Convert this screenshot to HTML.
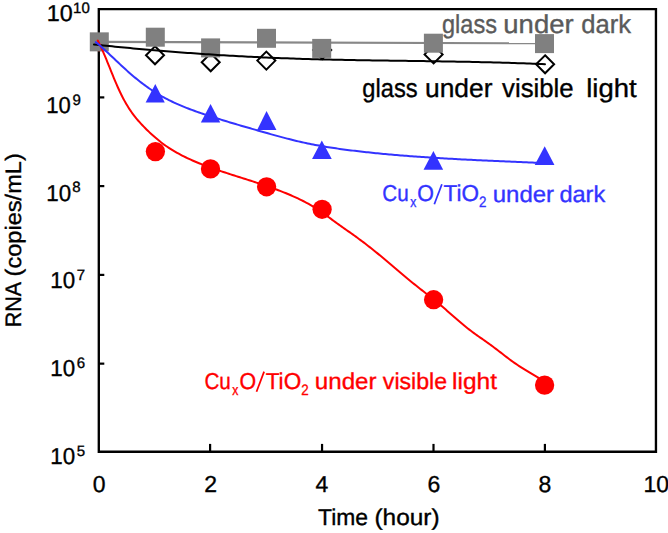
<!DOCTYPE html>
<html><head><meta charset="utf-8">
<style>
html,body{margin:0;padding:0;background:#fff;}
body{width:668px;height:533px;overflow:hidden;position:relative;}
svg{position:absolute;left:0;top:0;font-family:"Liberation Sans",sans-serif;text-rendering:geometricPrecision;}
</style></head><body>
<svg width="668" height="533" viewBox="0 0 668 533">
<path d="M98.8 9.15 H655.95 V451.7 H98.8 Z" fill="none" stroke="#000" stroke-width="2.35" stroke-linejoin="miter"/>
<line x1="99" y1="97.40" x2="104.3" y2="97.40" stroke="#000" stroke-width="2.2"/>
<line x1="99" y1="186.10" x2="104.3" y2="186.10" stroke="#000" stroke-width="2.2"/>
<line x1="99" y1="274.90" x2="104.3" y2="274.90" stroke="#000" stroke-width="2.2"/>
<line x1="99" y1="363.65" x2="104.3" y2="363.65" stroke="#000" stroke-width="2.2"/>
<line x1="210.10" y1="451.5" x2="210.10" y2="443.9" stroke="#000" stroke-width="2.2"/>
<line x1="322.05" y1="451.5" x2="322.05" y2="443.9" stroke="#000" stroke-width="2.2"/>
<line x1="433.50" y1="451.5" x2="433.50" y2="443.9" stroke="#000" stroke-width="2.2"/>
<line x1="544.90" y1="451.5" x2="544.90" y2="443.9" stroke="#000" stroke-width="2.2"/>
<circle cx="99.30" cy="42.10" r="9.20" fill="#ff0000"/>
<circle cx="155.40" cy="151.60" r="9.65" fill="#ff0000"/>
<circle cx="210.50" cy="168.90" r="9.65" fill="#ff0000"/>
<circle cx="266.60" cy="186.80" r="9.65" fill="#ff0000"/>
<circle cx="322.10" cy="209.30" r="9.65" fill="#ff0000"/>
<circle cx="433.60" cy="299.70" r="9.65" fill="#ff0000"/>
<circle cx="544.60" cy="385.10" r="9.65" fill="#ff0000"/>
<path d="M155.30 83.90 L164.75 102.60 L145.65 102.60 Z" fill="#3333ff"/>
<path d="M210.55 104.10 L220.25 122.50 L200.85 122.50 Z" fill="#3333ff"/>
<path d="M266.55 111.10 L276.45 129.90 L257.15 129.90 Z" fill="#3333ff"/>
<path d="M321.80 140.40 L331.75 158.90 L312.05 158.90 Z" fill="#3333ff"/>
<path d="M433.40 151.10 L443.15 169.80 L423.55 169.80 Z" fill="#3333ff"/>
<path d="M544.70 146.20 L554.45 164.90 L534.75 164.90 Z" fill="#3333ff"/>
<path d="M155.00 46.30 L164.00 55.30 L155.00 64.30 L146.00 55.30 Z" fill="#fff" stroke="#000" stroke-width="2.00"/>
<path d="M210.70 53.30 L219.70 62.30 L210.70 71.30 L201.70 62.30 Z" fill="#fff" stroke="#000" stroke-width="2.00"/>
<path d="M266.35 51.60 L275.35 60.60 L266.35 69.60 L257.35 60.60 Z" fill="#fff" stroke="#000" stroke-width="2.00"/>
<path d="M322.20 41.10 L331.20 50.10 L322.20 59.10 L313.20 50.10 Z" fill="#fff" stroke="#000" stroke-width="2.00"/>
<path d="M433.60 45.40 L442.60 54.40 L433.60 63.40 L424.60 54.40 Z" fill="#fff" stroke="#000" stroke-width="2.00"/>
<path d="M545.10 55.30 L554.10 64.30 L545.10 73.30 L536.10 64.30 Z" fill="#fff" stroke="#000" stroke-width="2.00"/>
<polygon points="99,40.85 544,42.25 544,44.35 99,42.95" fill="#888"/>
<rect x="89.80" y="32.35" width="19.00" height="19.00" fill="#808080"/>
<rect x="145.80" y="27.70" width="19.00" height="19.00" fill="#808080"/>
<rect x="201.10" y="38.40" width="19.00" height="19.00" fill="#808080"/>
<rect x="257.00" y="28.80" width="19.00" height="19.00" fill="#808080"/>
<rect x="312.20" y="38.90" width="19.00" height="19.00" fill="#808080"/>
<rect x="423.90" y="33.70" width="19.00" height="19.00" fill="#808080"/>
<rect x="535.00" y="34.10" width="19.00" height="19.00" fill="#808080"/>
<path d="M94.00 44.46L97.02 44.78L100.03 45.10L103.05 45.42L106.06 45.73L109.08 46.03L112.10 46.34L115.11 46.64L118.13 46.94L121.15 47.23L124.17 47.52L127.19 47.81L130.20 48.10L133.22 48.38L136.24 48.66L139.26 48.93L142.28 49.21L145.30 49.47L148.32 49.74L151.34 50.00L154.36 50.26L157.38 50.52L160.40 50.77L163.42 51.02L166.44 51.26L169.46 51.51L172.49 51.75L175.51 51.98L178.53 52.22L181.55 52.45L184.58 52.67L187.60 52.89L190.62 53.11L193.65 53.33L196.67 53.54L199.69 53.75L202.72 53.96L205.74 54.16L208.76 54.36L211.79 54.56L214.81 54.75L217.84 54.94L220.86 55.13L223.89 55.31L226.91 55.49L229.94 55.67L232.97 55.84L235.99 56.01L239.02 56.18L242.04 56.34L245.07 56.50L248.10 56.65L251.12 56.81L254.15 56.95L257.18 57.10L260.21 57.24L263.23 57.38L266.26 57.52L269.29 57.65L272.32 57.78L275.34 57.90L278.37 58.03L281.40 58.14L284.43 58.26L287.46 58.37L290.49 58.48L293.51 58.58L296.54 58.69L299.57 58.78L302.60 58.88L305.63 58.97L308.66 59.06L311.69 59.15L314.72 59.23L317.75 59.31L320.78 59.39L323.81 59.46L326.84 59.54L329.87 59.61L332.90 59.68L335.93 59.74L338.96 59.81L341.99 59.87L345.02 59.93L348.05 59.99L351.08 60.04L354.11 60.10L357.14 60.15L360.17 60.20L363.20 60.25L366.23 60.30L369.26 60.35L372.29 60.40L375.32 60.45L378.36 60.49L381.39 60.54L384.42 60.58L387.45 60.62L390.48 60.66L393.51 60.71L396.54 60.75L399.57 60.79L402.60 60.83L405.63 60.87L408.66 60.91L411.70 60.95L414.73 61.00L417.76 61.04L420.79 61.08L423.82 61.12L426.85 61.17L429.88 61.21L432.91 61.25L435.94 61.30L438.97 61.34L442.00 61.39L445.03 61.44L448.07 61.49L451.10 61.54L454.13 61.59L457.16 61.64L460.19 61.70L463.22 61.76L466.25 61.81L469.28 61.87L472.31 61.94L475.34 62.00L478.37 62.06L481.40 62.13L484.43 62.20L487.46 62.28L490.49 62.35L493.52 62.43L496.55 62.51L499.58 62.59L502.61 62.68L505.63 62.76L508.66 62.86L511.69 62.95L514.72 63.05L517.75 63.15L520.78 63.25L523.81 63.36L526.84 63.47L529.86 63.59L532.89 63.70L535.92 63.83L538.95 63.95L541.98 64.08L545.00 64.22" fill="none" stroke="#000" stroke-width="2" stroke-linecap="round" stroke-linejoin="round"/>
<path d="M97.75 40.54L98.61 42.23L99.45 43.93L100.28 45.64L101.09 47.37L101.89 49.11L102.67 50.85L103.45 52.61L104.21 54.38L104.97 56.16L105.72 57.94L106.46 59.73L107.19 61.52L107.93 63.32L108.65 65.13L109.38 66.93L110.11 68.74L110.84 70.55L111.56 72.36L112.30 74.17L113.03 75.98L113.77 77.78L114.52 79.59L115.27 81.38L116.03 83.18L116.81 84.96L117.59 86.74L118.39 88.51L119.20 90.28L120.02 92.03L120.86 93.77L121.71 95.51L122.59 97.23L123.48 98.93L124.39 100.63L125.32 102.30L126.28 103.97L127.26 105.61L128.27 107.24L129.30 108.85L130.35 110.44L131.44 112.01L132.56 113.56L133.70 115.09L134.87 116.60L136.07 118.09L137.29 119.56L138.53 121.02L139.80 122.45L141.10 123.88L142.41 125.28L143.75 126.68L145.10 128.05L146.48 129.42L147.87 130.77L149.28 132.11L150.70 133.43L152.13 134.75L153.58 136.05L155.04 137.34L156.51 138.61L157.99 139.85L159.50 141.08L161.01 142.28L162.55 143.44L164.10 144.59L165.67 145.70L167.25 146.79L168.85 147.85L170.46 148.89L172.09 149.91L173.73 150.90L175.38 151.87L177.05 152.82L178.72 153.74L180.41 154.65L182.11 155.54L183.83 156.40L185.55 157.25L187.28 158.08L189.02 158.90L190.77 159.69L192.53 160.47L194.30 161.24L196.07 161.99L197.86 162.72L199.65 163.45L201.44 164.16L203.24 164.86L205.05 165.54L206.86 166.22L208.68 166.89L210.50 167.54L212.32 168.19L214.15 168.83L215.98 169.46L217.81 170.09L219.65 170.71L221.48 171.33L223.32 171.94L225.16 172.54L227.00 173.14L228.84 173.74L230.68 174.33L232.52 174.93L234.36 175.52L236.20 176.11L238.04 176.69L239.88 177.28L241.72 177.87L243.57 178.45L245.41 179.04L247.25 179.63L249.08 180.22L250.92 180.81L252.76 181.40L254.60 182.00L256.43 182.60L258.26 183.20L260.10 183.81L261.93 184.43L263.75 185.05L265.58 185.67L267.40 186.30L269.23 186.94L271.05 187.58L272.86 188.23L274.68 188.90L276.49 189.56L278.30 190.24L280.10 190.93L281.91 191.63L283.70 192.33L285.50 193.05L287.29 193.78L289.08 194.52L290.86 195.28L292.63 196.05L294.40 196.83L296.15 197.64L297.90 198.45L299.65 199.29L301.38 200.14L303.10 201.01L304.81 201.90L306.51 202.80L308.20 203.73L309.88 204.69L311.54 205.66L313.19 206.66L314.83 207.67L316.45 208.71L318.06 209.77L319.66 210.85L321.26 211.93L322.84 213.04L324.42 214.15L325.99 215.27L327.56 216.41L329.13 217.54L330.69 218.68L332.25 219.83L333.82 220.97L335.38 222.11L336.94 223.25L338.51 224.38L340.08 225.50L341.66 226.63L343.24 227.74L344.82 228.86L346.40 229.97L347.98 231.08L349.55 232.19L351.13 233.30L352.71 234.42L354.28 235.54L355.84 236.67L357.40 237.80L358.96 238.94L360.51 240.08L362.05 241.24L363.59 242.40L365.12 243.56L366.65 244.74L368.17 245.92L369.69 247.11L371.21 248.30L372.71 249.50L374.22 250.71L375.72 251.92L377.21 253.14L378.70 254.37L380.19 255.60L381.67 256.83L383.15 258.07L384.63 259.32L386.10 260.56L387.58 261.81L389.05 263.06L390.52 264.32L391.99 265.57L393.46 266.82L394.93 268.08L396.40 269.33L397.88 270.58L399.35 271.83L400.82 273.08L402.30 274.33L403.78 275.57L405.26 276.81L406.75 278.04L408.24 279.27L409.73 280.50L411.23 281.72L412.74 282.93L414.24 284.14L415.75 285.34L417.26 286.54L418.78 287.74L420.29 288.93L421.81 290.13L423.33 291.32L424.85 292.51L426.36 293.71L427.88 294.90L429.39 296.10L430.90 297.30L432.41 298.51L433.92 299.71L435.42 300.93L436.91 302.15L438.41 303.37L439.89 304.61L441.37 305.85L442.84 307.09L444.31 308.35L445.77 309.61L447.23 310.88L448.69 312.15L450.14 313.42L451.60 314.70L453.05 315.97L454.50 317.24L455.96 318.51L457.42 319.78L458.88 321.04L460.35 322.29L461.83 323.54L463.31 324.77L464.80 326.00L466.30 327.21L467.80 328.42L469.32 329.60L470.86 330.77L472.40 331.93L473.95 333.07L475.51 334.21L477.08 335.33L478.66 336.45L480.24 337.56L481.82 338.67L483.40 339.78L484.98 340.89L486.56 342.00L488.13 343.12L489.70 344.25L491.26 345.39L492.81 346.54L494.36 347.70L495.90 348.87L497.43 350.04L498.96 351.22L500.49 352.40L502.02 353.58L503.55 354.76L505.09 355.94L506.62 357.11L508.16 358.27L509.71 359.43L511.26 360.57L512.83 361.70L514.40 362.81L515.99 363.91L517.58 364.99L519.19 366.06L520.80 367.12L522.42 368.16L524.05 369.19L525.69 370.21L527.34 371.21L528.99 372.21L530.65 373.20L532.32 374.18L533.99 375.15L535.66 376.12L537.34 377.08L539.02 378.03L540.71 378.98L542.40 379.93L544.08 380.87" fill="none" stroke="#ff0000" stroke-width="2" stroke-linecap="round" stroke-linejoin="round"/>
<path d="M95.90 42.14L97.35 43.37L98.79 44.61L100.22 45.87L101.64 47.13L103.06 48.41L104.48 49.70L105.89 50.99L107.29 52.29L108.69 53.60L110.09 54.91L111.49 56.22L112.89 57.54L114.28 58.85L115.68 60.17L117.08 61.49L118.47 62.81L119.87 64.12L121.28 65.43L122.69 66.74L124.10 68.04L125.52 69.33L126.94 70.62L128.37 71.89L129.81 73.16L131.25 74.41L132.71 75.66L134.17 76.89L135.64 78.11L137.12 79.32L138.61 80.51L140.11 81.69L141.61 82.86L143.13 84.01L144.66 85.15L146.20 86.27L147.75 87.37L149.30 88.46L150.87 89.53L152.45 90.59L154.05 91.62L155.65 92.64L157.27 93.64L158.89 94.62L160.53 95.58L162.19 96.52L163.85 97.45L165.53 98.35L167.21 99.23L168.91 100.09L170.62 100.94L172.34 101.76L174.07 102.57L175.81 103.37L177.56 104.15L179.32 104.91L181.08 105.66L182.85 106.40L184.63 107.12L186.41 107.83L188.20 108.53L190.00 109.21L191.80 109.89L193.61 110.55L195.42 111.20L197.23 111.85L199.05 112.49L200.87 113.11L202.69 113.74L204.52 114.35L206.34 114.96L208.17 115.56L210.00 116.16L211.83 116.75L213.65 117.33L215.48 117.92L217.31 118.50L219.14 119.07L220.97 119.64L222.80 120.21L224.62 120.77L226.45 121.33L228.28 121.89L230.11 122.44L231.94 122.99L233.77 123.53L235.61 124.08L237.44 124.61L239.27 125.15L241.10 125.69L242.94 126.22L244.77 126.75L246.61 127.28L248.44 127.80L250.28 128.33L252.11 128.86L253.95 129.38L255.79 129.91L257.63 130.43L259.47 130.96L261.30 131.48L263.15 132.01L264.99 132.53L266.83 133.05L268.67 133.57L270.52 134.09L272.36 134.61L274.21 135.12L276.05 135.63L277.90 136.14L279.75 136.64L281.60 137.14L283.45 137.63L285.31 138.12L287.16 138.60L289.02 139.08L290.87 139.54L292.73 140.01L294.59 140.46L296.46 140.91L298.32 141.35L300.18 141.78L302.05 142.20L303.92 142.61L305.79 143.02L307.66 143.41L309.54 143.80L311.41 144.17L313.29 144.54L315.17 144.90L317.05 145.25L318.93 145.59L320.81 145.93L322.70 146.26L324.58 146.58L326.47 146.89L328.36 147.20L330.24 147.50L332.13 147.79L334.03 148.07L335.92 148.35L337.81 148.63L339.71 148.90L341.60 149.16L343.50 149.42L345.39 149.67L347.29 149.92L349.19 150.16L351.09 150.40L352.99 150.63L354.89 150.86L356.79 151.08L358.69 151.30L360.59 151.52L362.49 151.74L364.40 151.95L366.30 152.15L368.20 152.36L370.11 152.56L372.01 152.76L373.91 152.95L375.82 153.15L377.72 153.34L379.63 153.52L381.53 153.71L383.44 153.89L385.35 154.07L387.25 154.24L389.16 154.42L391.07 154.59L392.97 154.75L394.88 154.92L396.79 155.08L398.70 155.24L400.60 155.40L402.51 155.55L404.42 155.71L406.33 155.86L408.24 156.01L410.15 156.15L412.06 156.30L413.97 156.44L415.88 156.58L417.79 156.71L419.70 156.85L421.61 156.98L423.52 157.11L425.43 157.24L427.34 157.37L429.25 157.50L431.16 157.62L433.07 157.74L434.98 157.86L436.89 157.98L438.81 158.10L440.72 158.21L442.63 158.33L444.54 158.44L446.45 158.55L448.37 158.66L450.28 158.77L452.19 158.87L454.10 158.98L456.02 159.08L457.93 159.18L459.84 159.28L461.75 159.38L463.67 159.48L465.58 159.58L467.49 159.68L469.41 159.77L471.32 159.87L473.23 159.96L475.14 160.05L477.06 160.14L478.97 160.23L480.88 160.32L482.80 160.41L484.71 160.50L486.62 160.59L488.54 160.68L490.45 160.76L492.36 160.85L494.27 160.93L496.19 161.02L498.10 161.10L500.01 161.19L501.93 161.27L503.84 161.35L505.75 161.43L507.66 161.52L509.58 161.60L511.49 161.68L513.40 161.76L515.31 161.84L517.22 161.93L519.14 162.01L521.05 162.09L522.96 162.17L524.87 162.25L526.78 162.33L528.69 162.42L530.61 162.50L532.52 162.58L534.43 162.66L536.34 162.75L538.25 162.83L540.16 162.91L542.07 163.00L543.98 163.08" fill="none" stroke="#3333ff" stroke-width="2" stroke-linecap="round" stroke-linejoin="round"/>
<text x="46.72" y="20.80" font-size="23.00" fill="#000" stroke="#000" stroke-width="0.35" textLength="25.99" lengthAdjust="spacingAndGlyphs">10</text>
<text x="73.06" y="13.00" font-size="15.00" fill="#000" stroke="#000" stroke-width="0.35">10</text>
<text x="46.32" y="112.50" font-size="23.00" fill="#000" stroke="#000" stroke-width="0.35" textLength="24.54" lengthAdjust="spacingAndGlyphs">10</text>
<text x="72.60" y="105.00" font-size="15.00" fill="#000" stroke="#000" stroke-width="0.35">9</text>
<text x="46.30" y="200.50" font-size="23.00" fill="#000" stroke="#000" stroke-width="0.35" textLength="24.88" lengthAdjust="spacingAndGlyphs">10</text>
<text x="72.35" y="191.60" font-size="15.00" fill="#000" stroke="#000" stroke-width="0.35">8</text>
<text x="50.30" y="287.80" font-size="23.00" fill="#000" stroke="#000" stroke-width="0.35" textLength="24.88" lengthAdjust="spacingAndGlyphs">10</text>
<text x="76.83" y="279.80" font-size="15.00" fill="#000" stroke="#000" stroke-width="0.35">7</text>
<text x="50.30" y="375.90" font-size="23.00" fill="#000" stroke="#000" stroke-width="0.35" textLength="24.88" lengthAdjust="spacingAndGlyphs">10</text>
<text x="76.84" y="367.60" font-size="15.00" fill="#000" stroke="#000" stroke-width="0.35">6</text>
<text x="50.30" y="464.20" font-size="23.00" fill="#000" stroke="#000" stroke-width="0.35" textLength="24.88" lengthAdjust="spacingAndGlyphs">10</text>
<text x="76.70" y="455.80" font-size="15.00" fill="#000" stroke="#000" stroke-width="0.35">5</text>
<text x="92.70" y="492.40" font-size="23.00" fill="#000" stroke="#000" stroke-width="0.35">0</text>
<text x="204.30" y="492.40" font-size="23.00" fill="#000" stroke="#000" stroke-width="0.35">2</text>
<text x="315.58" y="492.40" font-size="23.00" fill="#000" stroke="#000" stroke-width="0.35">4</text>
<text x="427.48" y="492.40" font-size="23.00" fill="#000" stroke="#000" stroke-width="0.35">6</text>
<text x="538.60" y="492.40" font-size="23.00" fill="#000" stroke="#000" stroke-width="0.35">8</text>
<text x="643.55" y="492.40" font-size="23.00" fill="#000" stroke="#000" stroke-width="0.35">10</text>
<text x="318.09" y="525.00" font-size="22.80" fill="#000" stroke="#000" stroke-width="0.35" textLength="50.01" lengthAdjust="spacingAndGlyphs">Time</text>
<text x="374.49" y="525.00" font-size="22.80" fill="#000" stroke="#000" stroke-width="0.35" textLength="65.13" lengthAdjust="spacingAndGlyphs">(hour)</text>
<g transform="translate(20.7,0) rotate(-90)"><text x="-327.16" y="0.00" font-size="22.40" fill="#000" stroke="#000" stroke-width="0.35" textLength="45.30" lengthAdjust="spacingAndGlyphs">RNA</text><text x="-276.46" y="0.00" font-size="22.40" fill="#000" stroke="#000" stroke-width="0.35" textLength="123.23" lengthAdjust="spacingAndGlyphs">(copies/mL)</text></g>
<text x="442.01" y="32.90" font-size="26.00" fill="#5a5a5a" stroke="#5a5a5a" stroke-width="0.35" textLength="54.94" lengthAdjust="spacingAndGlyphs">glass</text><text x="503.31" y="32.90" font-size="26.00" fill="#5a5a5a" stroke="#5a5a5a" stroke-width="0.35" textLength="70.34" lengthAdjust="spacingAndGlyphs">under</text><text x="581.32" y="32.90" font-size="26.00" fill="#5a5a5a" stroke="#5a5a5a" stroke-width="0.35" textLength="49.84" lengthAdjust="spacingAndGlyphs">dark</text>
<text x="362.30" y="97.30" font-size="26.00" fill="#000" stroke="#000" stroke-width="0.35" textLength="55.35" lengthAdjust="spacingAndGlyphs">glass</text><text x="424.99" y="97.30" font-size="26.00" fill="#000" stroke="#000" stroke-width="0.35" textLength="67.45" lengthAdjust="spacingAndGlyphs">under</text><text x="502.11" y="97.30" font-size="26.00" fill="#000" stroke="#000" stroke-width="0.35" textLength="71.53" lengthAdjust="spacingAndGlyphs">visible</text><text x="586.25" y="97.30" font-size="26.00" fill="#000" stroke="#000" stroke-width="0.35" textLength="50.45" lengthAdjust="spacingAndGlyphs">light</text>
<text x="382.25" y="201.20" font-size="23.00" fill="#3333ff" stroke="#3333ff" stroke-width="0.35" textLength="26.42" lengthAdjust="spacingAndGlyphs">Cu</text><text x="410.16" y="207.40" font-size="15.00" fill="#3333ff" stroke="#3333ff" stroke-width="0.35" textLength="6.07" lengthAdjust="spacingAndGlyphs">x</text><text x="417.29" y="201.20" font-size="23.00" fill="#3333ff" stroke="#3333ff" stroke-width="0.35" textLength="16.64" lengthAdjust="spacingAndGlyphs">O</text><line x1="441.90" y1="184.20" x2="434.30" y2="204.30" stroke="#3333ff" stroke-width="1.75"/><text x="443.51" y="201.20" font-size="23.00" fill="#3333ff" stroke="#3333ff" stroke-width="0.35" textLength="35.45" lengthAdjust="spacingAndGlyphs">TiO</text><text x="478.93" y="207.10" font-size="15.00" fill="#3333ff" stroke="#3333ff" stroke-width="0.35" textLength="7.45" lengthAdjust="spacingAndGlyphs">2</text><text x="492.74" y="201.50" font-size="23.00" fill="#3333ff" stroke="#3333ff" stroke-width="0.35" textLength="61.36" lengthAdjust="spacingAndGlyphs">under</text><text x="559.41" y="201.50" font-size="23.00" fill="#3333ff" stroke="#3333ff" stroke-width="0.35" textLength="45.86" lengthAdjust="spacingAndGlyphs">dark</text>
<text x="204.45" y="388.60" font-size="23.00" fill="#ff0000" stroke="#ff0000" stroke-width="0.35" textLength="26.42" lengthAdjust="spacingAndGlyphs">Cu</text><text x="232.36" y="394.80" font-size="15.00" fill="#ff0000" stroke="#ff0000" stroke-width="0.35" textLength="6.07" lengthAdjust="spacingAndGlyphs">x</text><text x="239.49" y="388.60" font-size="23.00" fill="#ff0000" stroke="#ff0000" stroke-width="0.35" textLength="16.64" lengthAdjust="spacingAndGlyphs">O</text><line x1="264.10" y1="371.60" x2="256.50" y2="391.70" stroke="#ff0000" stroke-width="1.75"/><text x="265.71" y="388.60" font-size="23.00" fill="#ff0000" stroke="#ff0000" stroke-width="0.35" textLength="35.45" lengthAdjust="spacingAndGlyphs">TiO</text><text x="301.13" y="394.50" font-size="15.00" fill="#ff0000" stroke="#ff0000" stroke-width="0.35" textLength="7.45" lengthAdjust="spacingAndGlyphs">2</text><text x="314.83" y="388.90" font-size="23.00" fill="#ff0000" stroke="#ff0000" stroke-width="0.35" textLength="61.67" lengthAdjust="spacingAndGlyphs">under</text><text x="382.82" y="388.90" font-size="23.00" fill="#ff0000" stroke="#ff0000" stroke-width="0.35" textLength="64.31" lengthAdjust="spacingAndGlyphs">visible</text><text x="452.05" y="388.90" font-size="23.00" fill="#ff0000" stroke="#ff0000" stroke-width="0.35" textLength="44.93" lengthAdjust="spacingAndGlyphs">light</text>
</svg>
</body></html>
